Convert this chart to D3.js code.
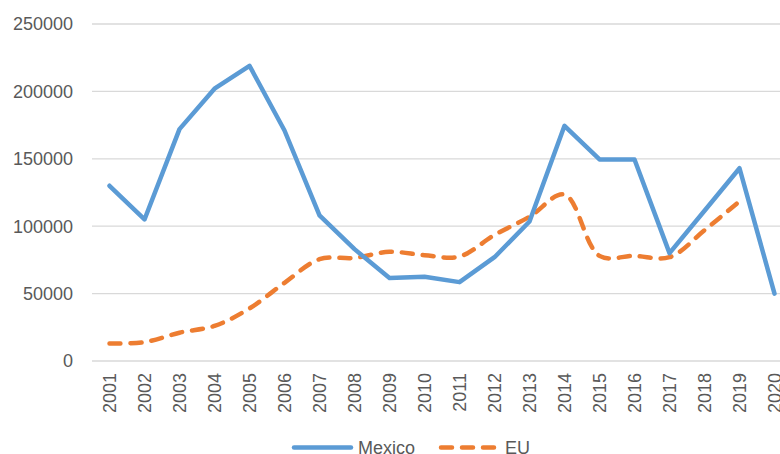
<!DOCTYPE html>
<html lang="en">
  <head>
    <meta charset="utf-8">
    <title>Mexico vs EU, 2001-2020</title>
    <script src="https://d3js.org/d3.v7.min.js"></script>
    <style>
      body { margin: 0; background: #fff; }
      svg { display: block; font-family: "Liberation Sans", Arial, sans-serif; }
      .tick-label { fill: #595959; font-size: 18px; }
    </style>
  </head>
  <body>
    <script>
      // data
      const years = ['2001','2002','2003','2004','2005','2006','2007','2008','2009','2010',
                     '2011','2012','2013','2014','2015','2016','2017','2018','2019','2020'];
      const mexico = [130000, 105000, 172000, 202000, 219000, 171000, 108000, 83000, 61500, 62500,
                      58500, 77000, 103500, 174500, 149500, 149500, 80000, 111500, 143000, 50000];
      const eu = [13000, 14000, 21000, 26000, 39000, 58000, 75500, 76500, 81000, 78500,
                  77500, 93500, 107000, 123500, 78000, 78000, 77000, 97000, 118500, null];
      const yTicks = [0, 50000, 100000, 150000, 200000, 250000];

      const width = 780, height = 454;

      const svg = d3.select('body').append('svg')
          .attr('width', width)
          .attr('height', height);

      // plot area runs past the right edge, as in the cropped original
      const x = d3.scaleBand().domain(years).range([92, 792]);
      const y = d3.scaleLinear().domain([0, 250000]).range([361, 24]);
      const cx = d => x(d) + x.bandwidth() / 2;

      // gridlines
      svg.append('g').selectAll('line')
        .data(yTicks)
        .join('line')
          .attr('x1', 92).attr('x2', width)
          .attr('y1', d => y(d)).attr('y2', d => y(d))
          .attr('stroke', '#d9d9d9')
          .attr('stroke-width', 1.3);

      // y labels
      svg.append('g').selectAll('text')
        .data(yTicks)
        .join('text')
          .attr('class', 'tick-label')
          .attr('x', 73)
          .attr('y', d => y(d))
          .attr('dy', '0.35em')
          .attr('text-anchor', 'end')
          .text(d => d);

      // x labels, rotated
      svg.append('g').selectAll('text')
        .data(years)
        .join('text')
          .attr('class', 'tick-label')
          .attr('transform', d => `translate(${cx(d)},373) rotate(-90)`)
          .attr('dy', '0.35em')
          .attr('text-anchor', 'end')
          .text(d => d);

      const mexLine = d3.line()
          .x((d, i) => cx(years[i]))
          .y(d => y(d));

      const euLine = d3.line()
          .defined(d => d != null)
          .curve(d3.curveCatmullRom.alpha(0.5))
          .x((d, i) => cx(years[i]))
          .y(d => y(d));

      svg.append('path')
          .attr('d', euLine(eu))
          .attr('fill', 'none')
          .attr('stroke', '#ED7D31')
          .attr('stroke-width', 4.5)
          .attr('stroke-linecap', 'round')
          .attr('stroke-dasharray', '11,10');

      svg.append('path')
          .attr('d', mexLine(mexico))
          .attr('fill', 'none')
          .attr('stroke', '#5B9BD5')
          .attr('stroke-width', 4.5)
          .attr('stroke-linejoin', 'round')
          .attr('stroke-linecap', 'round');

      // legend
      const legend = svg.append('g');
      legend.append('line')
          .attr('x1', 294).attr('x2', 351).attr('y1', 447.5).attr('y2', 447.5)
          .attr('stroke', '#5B9BD5').attr('stroke-width', 4.5).attr('stroke-linecap', 'round');
      legend.append('text')
          .attr('class', 'tick-label')
          .attr('x', 358).attr('y', 447.5).attr('dy', '0.35em')
          .text('Mexico');
      legend.append('line')
          .attr('x1', 441).attr('x2', 498).attr('y1', 447.5).attr('y2', 447.5)
          .attr('stroke', '#ED7D31').attr('stroke-width', 4.5).attr('stroke-linecap', 'round')
          .attr('stroke-dasharray', '11,10');
      legend.append('text')
          .attr('class', 'tick-label')
          .attr('x', 505).attr('y', 447.5).attr('dy', '0.35em')
          .text('EU');
    </script>
  </body>
</html>
